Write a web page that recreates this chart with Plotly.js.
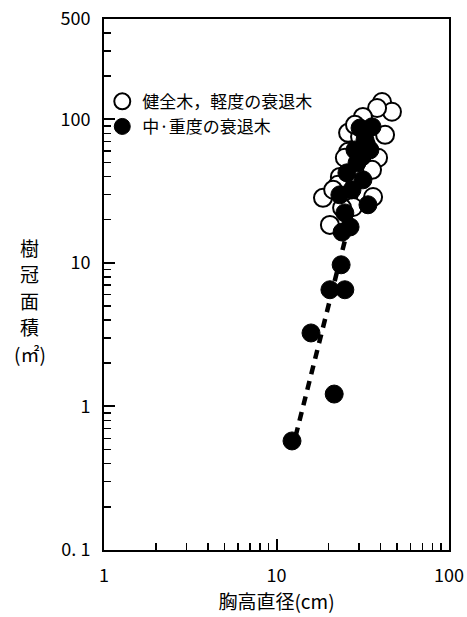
<!DOCTYPE html>
<html>
<head>
<meta charset="utf-8">
<script src="https://cdn.plot.ly/plotly-3.0.1.min.js"></script>
<style>
  html, body { margin: 0; padding: 0; background: #fff; }
  #chart { width: 467px; height: 617px; }
</style>
</head>
<body>
<div id="chart"></div>
<script>
// 胸高直径 (cm) と 樹冠面積 (㎡) — 健全木・軽度の衰退木
const healthyDbh  = [40.9, 46.7, 38.3, 31.7, 26.0, 42.6, 30.5, 26.0, 38.8, 24.9, 35.8, 23.3, 22.7,
                     36.3, 18.6, 21.3, 27.8, 20.4, 24.0, 28.5, 33.0];
const healthyArea = [132, 113, 120, 104, 80.5, 78, 75.5, 59.4, 54, 54, 44.5, 39.7, 35,
                     28.8, 28.4, 32.3, 24.5, 18.4, 24.2, 91.6, 66.4];

// 中・重度の衰退木
const declineDbh  = [35.8, 32.6, 31.3, 28.5, 25.6, 31.7, 27.4, 23.3, 33.9, 26.7, 24.0, 30.5, 24.9, 29.3, 34.8,
                     23.7, 20.4, 24.9, 15.85, 21.6, 12.3];
const declineArea = [88.7, 72, 54.8, 61.2, 42.4, 37.9, 32.3, 29.8, 25.4, 17.8, 16.4, 87, 22.3, 49.8, 61.2,
                     9.7, 6.5, 6.5, 3.25, 1.22, 0.575];

// 衰退木の回帰直線 (両端)
const fitDbh  = [12.9, 29];
const fitArea = [0.62, 29.5];

// 目盛ラベル
const xTickVals = [1, 10, 100];
const xTickText = ['1', '10', '100'];
const yTickVals = [0.1, 1, 10, 100, 500];
const yTickText = ['0. 1', '1', '10', '100', '500'];

// 縦書きの軸タイトル (1 行 1 文字)
const yTitleChars = ['樹', '冠', '面', '積', '(㎡)'];

const FONT = '"Noto Sans CJK JP", "Noto Sans", sans-serif';

const traces = [
  {
    x: fitDbh, y: fitArea, type: 'scatter', mode: 'lines',
    line: { color: '#000', width: 4.5, dash: '9px,7px' },
    showlegend: false, hoverinfo: 'skip'
  },
  {
    x: healthyDbh, y: healthyArea, type: 'scatter', mode: 'markers',
    name: '健全木，軽度の衰退木',
    marker: { symbol: 'circle', size: 18, color: '#fff', line: { color: '#000', width: 2 } }
  },
  {
    x: declineDbh, y: declineArea, type: 'scatter', mode: 'markers',
    name: '中·重度の衰退木',
    marker: { symbol: 'circle', size: 18, color: '#000', line: { color: '#000', width: 1 } }
  }
];

const layout = {
  width: 467,
  height: 617,
  margin: { l: 104, r: 18, t: 19, b: 67 },
  font: { family: FONT, color: '#000' },
  xaxis: {
    type: 'log', range: [0, 2],
    showgrid: false, zeroline: false,
    showline: true, mirror: true, linecolor: '#000', linewidth: 2,
    ticks: 'inside', ticklen: 11, tickwidth: 2, tickcolor: '#000',
    tickmode: 'array', tickvals: xTickVals, ticktext: xTickText,
    ticklabelstandoff: 8,
    tickfont: { family: FONT, size: 18, color: '#000' },
    minor: { ticks: 'inside', ticklen: 7, tickwidth: 1.5, tickcolor: '#000', dtick: 'D1' },
    title: { text: '胸高直径(cm)', font: { family: FONT, size: 19, color: '#000' }, standoff: 8 }
  },
  yaxis: {
    type: 'log', range: [-1, Math.log10(500)],
    showgrid: false, zeroline: false,
    showline: true, mirror: true, linecolor: '#000', linewidth: 2,
    ticks: 'inside', ticklen: 11, tickwidth: 2, tickcolor: '#000',
    tickmode: 'array', tickvals: yTickVals, ticktext: yTickText,
    ticklabelstandoff: 8,
    tickfont: { family: FONT, size: 18, color: '#000' },
    minor: { ticks: 'inside', ticklen: 7, tickwidth: 1.5, tickcolor: '#000', dtick: 'D1' }
  },
  showlegend: true,
  legend: {
    x: -0.005, y: 0.878, xanchor: 'left', yanchor: 'top',
    bgcolor: 'rgba(0,0,0,0)',
    font: { family: FONT, size: 17, color: '#000' },
    tracegroupgap: 0
  },
  annotations: yTitleChars.map((ch, i) => ({
    text: ch,
    xref: 'paper', yref: 'paper',
    x: -0.215,
    y: (550 - (247 + i * 26.5)) / 531,
    xanchor: 'center', yanchor: 'middle',
    showarrow: false,
    font: { family: FONT, size: 19, color: '#000' }
  }))
};

Plotly.newPlot('chart', traces, layout, { staticPlot: true });
</script>
</body>
</html>
